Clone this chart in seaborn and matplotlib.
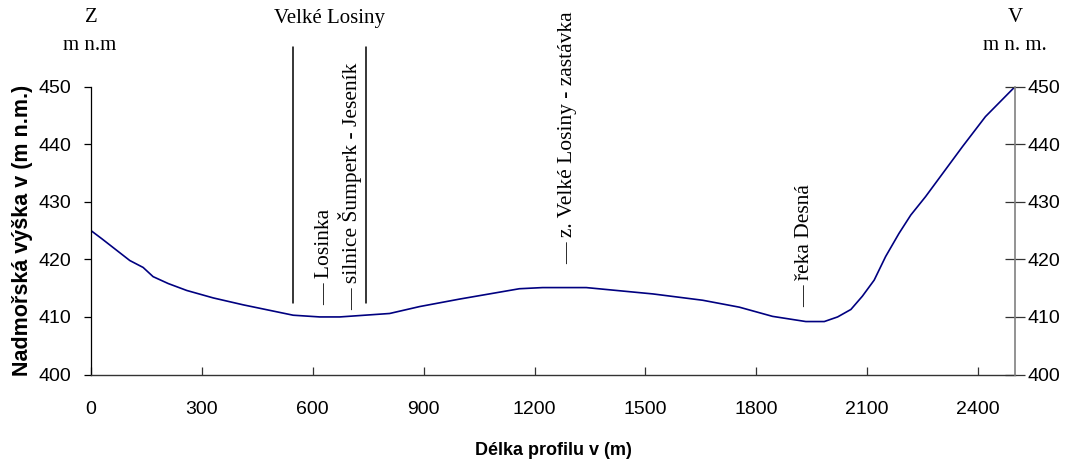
import matplotlib
matplotlib.use("Agg")
import matplotlib.pyplot as plt
import matplotlib.transforms as mtransforms
import numpy as np
import pandas as pd
import seaborn as sns

# ---- data ----
distance_m = [0, 29, 105, 141, 168, 209, 259, 331, 412, 547, 619, 673, 808, 889,
              997, 1159, 1222, 1340, 1520, 1655, 1754, 1844, 1934, 1984, 2020,
              2056, 2087, 2119, 2150, 2186, 2218, 2258, 2358, 2420, 2500]
elevation_m = [425.0, 423.6, 419.8, 418.6, 417.0, 415.8, 414.6, 413.3, 412.1, 410.3,
               410.0, 410.0, 410.6, 411.8, 413.1, 414.9, 415.1, 415.1, 414.0, 412.9,
               411.7, 410.1, 409.2, 409.2, 410.0, 411.3, 413.6, 416.4, 420.5, 424.5,
               427.7, 430.9, 439.6, 444.8, 450.0]
x_ticks = [0, 300, 600, 900, 1200, 1500, 1800, 2100, 2400]
y_ticks = [400, 410, 420, 430, 440, 450]

# town boundary lines (Velké Losiny)
boundary_x = [546, 743]
# rotated place labels
place_labels = ["— Losinka", "— silnice Šumperk - Jeseník",
                "— z. Velké Losiny - zastávka", "— řeka Desná"]
place_x = [632, 700, 1289, 1930]
place_y = [412.0, 411.2, 419.2, 411.8]

df = pd.DataFrame({"x": distance_m, "y": elevation_m})

sns.set_theme(style="white")
plt.rcParams["font.family"] = ["Liberation Sans", "DejaVu Sans"]
plt.rcParams["text.color"] = "black"
plt.rcParams["xtick.color"] = "black"
plt.rcParams["ytick.color"] = "black"
plt.rcParams["axes.labelcolor"] = "black"

fig = plt.figure(figsize=(10.71, 4.70), dpi=100)
ax = fig.add_axes([91 / 1071, 1 - 374.5 / 470, 924 / 1071, (374.5 - 86.7) / 470])

sns.lineplot(data=df, x="x", y="y", ax=ax, color="#000080", linewidth=1.2, sort=False)

ax.set_xlim(0, 2500)
ax.set_ylim(400, 450)
ax.set_xticks(x_ticks)
ax.set_yticks(y_ticks)
ax.tick_params(axis="x", direction="in", length=6, width=0.9, color="#333333",
               labelcolor="black", labelsize=14, pad=19, bottom=True)
ax.tick_params(axis="y", direction="out", length=5, width=0.9, color="black",
               labelcolor="black", labelsize=14, pad=9, left=True)

for s in ["top", "right"]:
    ax.spines[s].set_visible(False)
ax.spines["left"].set_color("black")
ax.spines["bottom"].set_color("#333333")
ax.spines["left"].set_linewidth(0.9)
ax.spines["bottom"].set_linewidth(1.0)

ax.set_xlabel("Délka profilu v (m)", fontsize=13, fontweight="bold", color="black")
ax.xaxis.set_label_coords(0.5, -0.235)
ax.set_ylabel("Nadmořská výška v (m n.m.)", fontsize=15.5, fontweight="bold", color="black")
ax.yaxis.set_label_coords(-0.063, 0.5)

# right axis
ax2 = ax.twinx()
ax2.set_ylim(400, 450)
ax2.set_yticks(y_ticks)
ax2.tick_params(axis="y", direction="inout", length=14, width=0.9, color="#333333",
                labelcolor="black", labelsize=14, pad=2, right=True)
for s in ["top", "left", "bottom"]:
    ax2.spines[s].set_visible(False)
ax2.spines["right"].set_color("#808080")
ax2.spines["right"].set_linewidth(1.2)
ax2.grid(False)

serif = ["Liberation Serif", "DejaVu Serif"]
bt = mtransforms.blended_transform_factory(ax.transData, fig.transFigure)

# boundary lines
for bx in boundary_x:
    ax.plot([bx, bx], [412.4, 456.9], color="black", linewidth=1.1, clip_on=False)

# header texts
ax.text(0, 1 - 18 / 470, "Z", transform=bt, ha="center", va="center", fontsize=15, family=serif)
ax.text(-5, 1 - 45 / 470, "m n.m", transform=bt, ha="center", va="center", fontsize=15, family=serif)
ax.text(645, 1 - 18 / 470, "Velké Losiny", transform=bt, ha="center", va="center", fontsize=15, family=serif)
ax.text(2500, 1 - 18 / 470, "V", transform=bt, ha="center", va="center", fontsize=15, family=serif)
ax.text(2500, 1 - 45 / 470, "m n. m.", transform=bt, ha="center", va="center", fontsize=15, family=serif)

for lbl, px, py in zip(place_labels, place_x, place_y):
    ax.text(px, py, lbl, rotation=90, ha="center", va="bottom", fontsize=15.5,
            family=serif, clip_on=False)

fig.savefig("out.png", dpi=100)
